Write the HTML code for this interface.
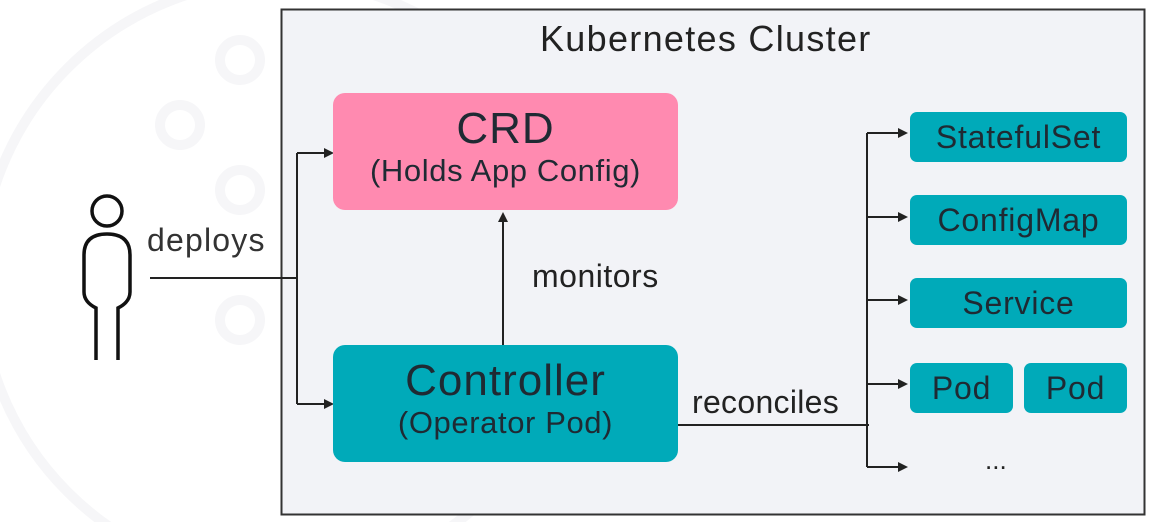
<!DOCTYPE html>
<html style="overflow:hidden"><head><style>
html,body{margin:0;width:1155px;height:522px;overflow:hidden}
body{background:#fff;position:relative;font-family:"Liberation Sans",sans-serif;color:#222}
.a{position:absolute;white-space:nowrap}
.box{position:absolute;border-radius:12px;text-align:center;color:#1f2a33}
.sm{position:absolute;background:#00aab9;border-radius:7px;font-size:32px;line-height:50px;text-align:center;color:#1f2a33;letter-spacing:0.8px}
</style></head><body>
<svg class="a" style="left:0;top:0" width="1155" height="522">
<g fill="none" stroke="#f6f6f8" stroke-width="10">
<circle cx="240" cy="60" r="20"/><circle cx="180" cy="125" r="20"/><circle cx="240" cy="190" r="20"/><circle cx="240" cy="320" r="20"/>
<circle cx="280" cy="280" r="300"/>
</g>
<rect x="281.5" y="9.5" width="863" height="505" fill="#f2f3f7" stroke="#333" stroke-width="2"/>
<g stroke="#222" stroke-width="2" fill="none">
<path d="M150 278H297M297 153V404M297 153H326M297 404H326"/>
<path d="M503 345V220"/>
<path d="M678 425H869M867 133V467M867 133H900M867 217H900M867 300H900M867 384H900M867 467H900"/>
</g>
<g fill="#222">
<path d="M334 153l-10-5v10z M334 404l-10-5v10z M503 212l-5 10h10z"/>
<path d="M908 133l-10-5v10z M908 217l-10-5v10z M908 300l-10-5v10z M908 384l-10-5v10z M908 467l-10-5v10z"/>
</g>
<g fill="none" stroke="#111" stroke-width="3.5">
<circle cx="107" cy="211" r="15"/>
<path d="M96 360V308Q84 302 84 292V255Q84 234 107 234Q130 234 130 255V292Q130 302 118 308V360"/>
</g>
</svg>
<div class="a" style="left:540px;top:18px;font-size:36px;letter-spacing:1.3px">Kubernetes Cluster</div>
<div class="box" style="left:333px;top:93px;width:345px;height:117px;background:#ff8ab0"><div style="font-size:44px;margin-top:12px;line-height:48px;letter-spacing:1px">CRD</div><div style="font-size:31px;letter-spacing:0.6px">(Holds App Config)</div></div>
<div class="box" style="left:333px;top:345px;width:345px;height:117px;background:#00aab9"><div style="font-size:44px;margin-top:12px;line-height:48px;letter-spacing:1px">Controller</div><div style="font-size:31px;letter-spacing:0.6px">(Operator Pod)</div></div>
<div class="a" style="left:147px;top:222px;font-size:32px;letter-spacing:1.2px;color:#333">deploys</div>
<div class="a" style="left:532px;top:258px;font-size:32px;letter-spacing:0.5px">monitors</div>
<div class="a" style="left:692px;top:384px;font-size:32px;letter-spacing:0.3px">reconciles</div>
<div class="sm" style="left:910px;top:112px;width:217px">StatefulSet</div>
<div class="sm" style="left:910px;top:195px;width:217px">ConfigMap</div>
<div class="sm" style="left:910px;top:278px;width:217px">Service</div>
<div class="sm" style="left:910px;top:363px;width:103px">Pod</div>
<div class="sm" style="left:1024px;top:363px;width:103px">Pod</div>
<div class="a" style="left:985px;top:445px;font-size:26px">...</div>
</body></html>
